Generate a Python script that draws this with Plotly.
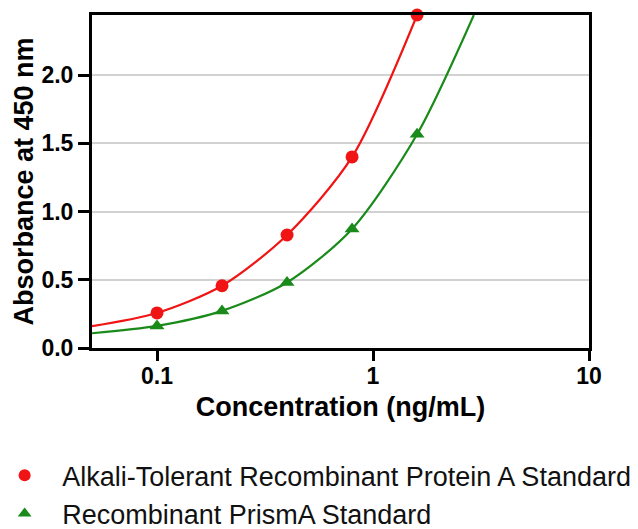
import plotly.graph_objects as go

# Data
conc = [0.1, 0.2, 0.4, 0.8, 1.6]
red_abs = [0.257, 0.456, 0.828, 1.40, 2.44]
green_abs = [0.162, 0.272, 0.480, 0.872, 1.566]

# Fitted-curve points (curve ends)
red_curve_x = [0.05, 0.1, 0.2, 0.4, 0.8, 1.6]
red_curve_y = [0.160, 0.257, 0.456, 0.828, 1.40, 2.44]
green_curve_x = [0.05, 0.1, 0.2, 0.4, 0.8, 1.6, 2.93]
green_curve_y = [0.108, 0.162, 0.272, 0.480, 0.872, 1.566, 2.44]

x_tickvals = [0.1, 1, 10]
x_ticktext = ["0.1", "1", "10"]
y_tickvals = [0.0, 0.5, 1.0, 1.5, 2.0]
y_ticktext = ["0.0", "0.5", "1.0", "1.5", "2.0"]

names = ["Alkali-Tolerant Recombinant Protein A Standard", "Recombinant PrismA Standard"]
RED = "#f01414"
GREEN = "#1a8a1a"
FONT = "Liberation Sans, Arial, sans-serif"

fig = go.Figure()
fig.add_trace(go.Scatter(x=red_curve_x, y=red_curve_y, mode="lines",
                         line=dict(color=RED, width=2.2, shape="spline", smoothing=0.8),
                         showlegend=False, hoverinfo="skip"))
fig.add_trace(go.Scatter(x=green_curve_x, y=green_curve_y, mode="lines",
                         line=dict(color=GREEN, width=2.2, shape="spline", smoothing=0.8),
                         showlegend=False, hoverinfo="skip"))
fig.add_trace(go.Scatter(x=conc, y=red_abs, mode="markers", name=names[0],
                         legendgroup="a",
                         marker=dict(symbol="circle", size=13, color=RED), cliponaxis=False))
fig.add_trace(go.Scatter(x=conc, y=green_abs, mode="markers", name=names[1],
                         legendgroup="b",
                         marker=dict(symbol="triangle-up", size=13, color=GREEN), cliponaxis=False))

fig.update_layout(
    width=638, height=529,
    margin=dict(l=92, r=49, t=15, b=181, autoexpand=False),
    paper_bgcolor="white", plot_bgcolor="white",
    font=dict(family=FONT, color="black"),
    showlegend=True,
    legend=dict(x=-0.211, xanchor="left", y=-0.31, yanchor="top",
                font=dict(size=27, family=FONT, color="#111"),
                tracegroupgap=0, itemwidth=65,
                bgcolor="rgba(0,0,0,0)", itemsizing="constant"),
    xaxis=dict(type="log", range=[-1.301, 1.0],
               tickvals=x_tickvals, ticktext=x_ticktext,
               ticks="outside", ticklen=10, tickwidth=2.5, tickcolor="black",
               ticklabelstandoff=-5,
               tickfont=dict(size=23, family=FONT, weight="bold"),
               showline=True, linecolor="black", linewidth=3, mirror=True,
               showgrid=False, zeroline=False,
               title=dict(text="<b>Concentration (ng/mL)</b>", font=dict(size=27), standoff=10)),
    yaxis=dict(range=[0, 2.44],
               tickvals=y_tickvals, ticktext=y_ticktext,
               ticks="outside", ticklen=11, tickwidth=2.5, tickcolor="black",
               tickfont=dict(size=23, family=FONT, weight="bold"),
               showline=True, linecolor="black", linewidth=3, mirror=True,
               showgrid=True, gridcolor="#d2d2d2", gridwidth=2, zeroline=False,
               title=dict(text="<b>Absorbance at 450 nm</b>", font=dict(size=27), standoff=0)),
)

fig.write_html("out.html")
